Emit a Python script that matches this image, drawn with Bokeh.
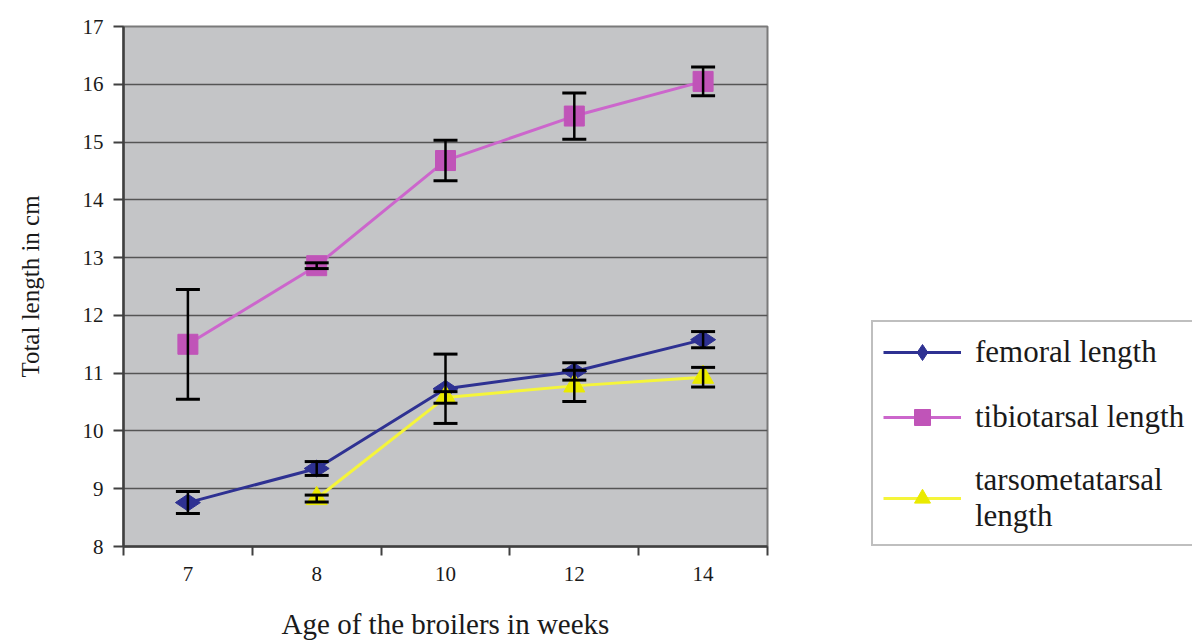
from bokeh.plotting import figure
from bokeh.layouts import row
from bokeh.models import (ColumnDataSource, FixedTicker, Whisker, TeeHead, Legend, LegendItem, Range1d)
from bokeh.embed import file_html
from bokeh.resources import INLINE
import numpy as np

weeks = ["7", "8", "10", "12", "14"]
femoral = [8.76, 9.35, 10.73, 11.03, 11.58]
femoral_err = [0.19, 0.12, 0.60, 0.15, 0.14]
tibiotarsal = [11.50, 12.86, 14.68, 15.45, 16.05]
tibiotarsal_err = [0.95, 0.05, 0.35, 0.40, 0.25]
tarsometatarsal = [None, 8.83, 10.58, 10.78, 10.93]
tarsometatarsal_err = [None, 0.06, 0.10, 0.27, 0.17]
y_ticks = [8, 9, 10, 11, 12, 13, 14, 15, 16, 17]

SERIF = "Liberation Serif"
xpos = [i + 0.5 for i in range(len(weeks))]

p = figure(width=800, height=642, output_backend="svg", toolbar_location=None,
           x_range=Range1d(0, len(weeks)), y_range=Range1d(8, 17),
           min_border_left=123, min_border_right=33, min_border_top=26, min_border_bottom=95)
p.border_fill_color = "white"
p.background_fill_color = "#c4c5c7"
p.outline_line_color = "#7a7a7a"
p.outline_line_width = 2

p.xgrid.grid_line_color = None
p.ygrid.grid_line_color = "#555555"
p.ygrid.grid_line_width = 1.6

xt = FixedTicker(ticks=xpos, minor_ticks=list(range(len(weeks) + 1)))
p.xaxis.ticker = xt
p.xaxis.major_label_overrides = {x: w for x, w in zip(xpos, weeks)}
p.xaxis.major_tick_line_color = None
p.xaxis.minor_tick_in = 0
p.xaxis.minor_tick_out = 9
p.xaxis.minor_tick_line_color = "#404040"
p.xaxis.minor_tick_line_width = 2
p.xaxis.major_label_standoff = 11

p.yaxis.ticker = FixedTicker(ticks=y_ticks, minor_ticks=[])
p.yaxis.major_tick_in = 0
p.yaxis.major_tick_out = 10
p.yaxis.major_tick_line_width = 2
p.yaxis.major_tick_line_color = "#404040"
p.yaxis.major_label_standoff = 10

for ax in (p.xaxis[0], p.yaxis[0]):
    ax.axis_line_color = "#404040"
    ax.axis_line_width = 2.5
    ax.major_label_text_font = SERIF
    ax.major_label_text_font_size = "21px"
    ax.major_label_text_color = "#1a1a1a"
    ax.axis_label_text_font = SERIF
    ax.axis_label_text_font_style = "normal"
    ax.axis_label_text_color = "#1a1a1a"

p.xaxis.axis_label = "Age of the broilers in weeks"
p.xaxis.axis_label_text_font_size = "29px"
p.xaxis.axis_label_standoff = 24
p.yaxis.axis_label = "Total length in cm"
p.yaxis.axis_label_text_font_size = "25px"
p.yaxis.axis_label_standoff = 36

# legend lives in its own panel figure to the right of the chart
lg = figure(width=392, height=642, output_backend="svg", toolbar_location=None,
            x_range=Range1d(100, 101), y_range=Range1d(100, 101),
            min_border_left=0, min_border_right=0, min_border_top=0, min_border_bottom=0)
lg.axis.visible = False
lg.grid.visible = False
lg.outline_line_color = None
lg.background_fill_color = "white"
lg.border_fill_color = "white"

series = [
    ("femoral length", femoral, femoral_err, "#2e3192", "#2e3192", "diamond", 25, np.pi / 2),
    ("tibiotarsal length", tibiotarsal, tibiotarsal_err, "#cc66cc", "#c054b8", "square", 20, 0),
    ("tarsometatarsal\nlength", tarsometatarsal, tarsometatarsal_err, "#f5f53a", "#eaea00", "triangle", 21, 0),
]

items = []
for name, vals, errs, lc, mc, mk, ms, ang in series:
    xs = [x for x, v in zip(xpos, vals) if v is not None]
    vs = [v for v in vals if v is not None]
    es = [e for e in errs if e is not None]
    src = ColumnDataSource(dict(x=xs, y=vs, up=[v + e for v, e in zip(vs, es)],
                                lo=[v - e for v, e in zip(vs, es)]))
    w = Whisker(base="x", upper="up", lower="lo", source=src, dimension="height",
                line_color="black", line_width=2.5, level="glyph",
                upper_head=TeeHead(size=24, line_width=3, line_color="black"),
                lower_head=TeeHead(size=24, line_width=3, line_color="black"))
    p.add_layout(w)
    p.line("x", "y", source=src, line_color=lc, line_width=3)
    p.scatter("x", "y", source=src, marker=mk, size=ms, angle=ang,
              fill_color=mc, line_color=mc)
    # same series in the legend panel (outside its visible range) to feed the legend swatches
    l1 = lg.line("x", "y", source=src, line_color=lc, line_width=3)
    l2 = lg.scatter("x", "y", source=src, marker=mk, size=ms, fill_color=mc, line_color=mc)
    items.append(LegendItem(label=name, renderers=[l1, l2]))

legend = Legend(items=items, location=(71, 0), glyph_width=78, glyph_height=40,
                label_text_font=SERIF, label_text_font_size="31px", label_text_color="#1a1a1a",
                label_standoff=14, spacing=25, padding=10, margin=0,
                border_line_color="#808080", border_line_width=2,
                background_fill_color="white", background_fill_alpha=1,
                label_height=36, label_text_line_height=1.05)
lg.add_layout(legend, "center")

layout = row(p, lg, spacing=0)
open("out.html", "w").write(file_html(layout, INLINE))
